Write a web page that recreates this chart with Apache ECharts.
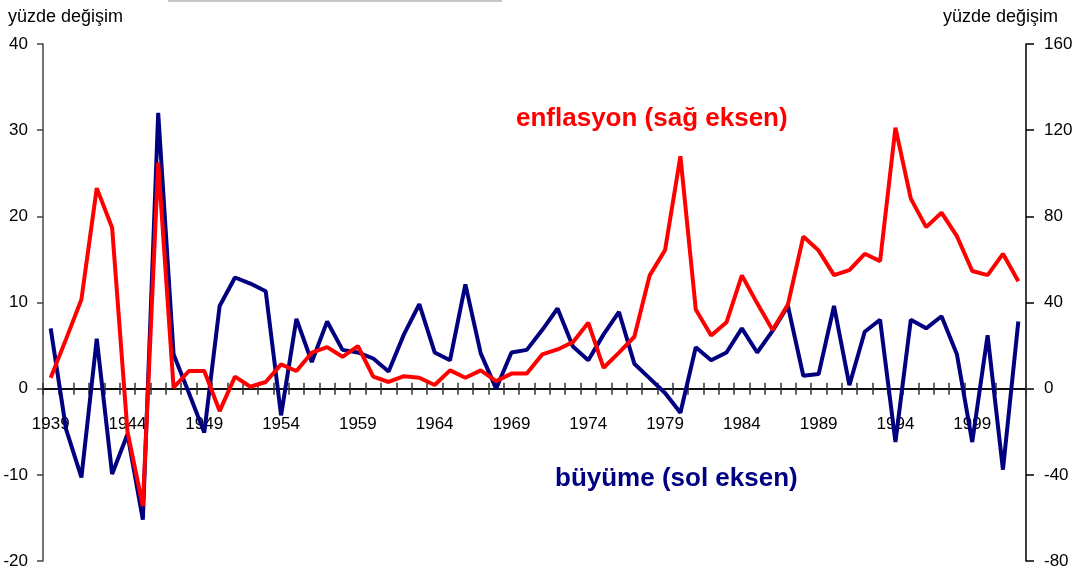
<!DOCTYPE html>
<html>
<head>
<meta charset="utf-8">
<title>büyüme ve enflasyon</title>
<script src="https://cdn.jsdelivr.net/npm/echarts@6/dist/echarts.min.js"></script>
<style>
  html, body { margin: 0; padding: 0; background: #fff; }
  #chart { width: 1076px; height: 571px; }
</style>
</head>
<body>
<div id="chart"></div>
<script>
// yillar
var years = ['1939','1940','1941','1942','1943','1944','1945','1946','1947','1948',
  '1949','1950','1951','1952','1953','1954','1955','1956','1957','1958',
  '1959','1960','1961','1962','1963','1964','1965','1966','1967','1968',
  '1969','1970','1971','1972','1973','1974','1975','1976','1977','1978',
  '1979','1980','1981','1982','1983','1984','1985','1986','1987','1988',
  '1989','1990','1991','1992','1993','1994','1995','1996','1997','1998',
  '1999','2000','2001','2002'];

// büyüme (sol eksen), yüzde
var buyume = [7.0, -4.7, -10.3, 5.8, -9.9, -5.3, -15.2, 32.0, 4.0, -0.5,
  -5.1, 9.6, 12.9, 12.2, 11.3, -3.1, 8.1, 3.1, 7.8, 4.5,
  4.2, 3.5, 2.0, 6.3, 9.8, 4.2, 3.3, 12.1, 4.1, 0.0,
  4.2, 4.5, 6.8, 9.3, 4.9, 3.3, 6.3, 8.9, 2.9, 1.2,
  -0.5, -2.8, 4.8, 3.3, 4.2, 7.0, 4.2, 6.7, 9.6, 1.5,
  1.7, 9.6, 0.4, 6.6, 8.0, -6.2, 8.0, 7.0, 8.4, 4.0,
  -6.2, 6.2, -9.4, 7.8];

// enflasyon (sag eksen), yüzde
var enflasyon = [5.1, 23, 41.4, 93.1, 74.7, -20, -54.5, 104.9, 0.5, 8.2,
  8.2, -10.4, 5.6, 0.9, 3.1, 11.3, 8.2, 16.7, 19.3, 14.8,
  19.8, 5.6, 3.1, 5.8, 5.1, 1.7, 8.5, 5.1, 8.5, 3.5,
  7.0, 7.0, 15.9, 18.2, 21.6, 30.6, 9.7, 16.7, 24.1, 52.6,
  64.3, 107.9, 36.8, 24.7, 30.8, 52.6, 39.6, 27.2, 39.1, 70.6,
  64.1, 52.7, 55.0, 62.6, 59.2, 121.1, 88.2, 75.0, 81.7, 70.8,
  54.6, 52.7, 62.6, 49.9];

var FONT = '"Liberation Sans", Arial, sans-serif';

var chart = echarts.init(document.getElementById('chart'));

chart.setOption({
  backgroundColor: '#fff',
  animation: false,
  grid: { left: 43, right: 50, top: 44, bottom: 10, containLabel: false, outerBoundsMode: 'none' },
  graphic: [
    { type: 'rect', left: 168, top: 0, shape: { width: 334, height: 2 }, style: { fill: '#c8c8c8' } },
    { type: 'text', left: 8, top: 8, style: { text: 'yüzde değişim', font: '18px ' + FONT, fill: '#000' } },
    { type: 'text', right: 18, top: 8, style: { text: 'yüzde değişim', font: '18px ' + FONT, fill: '#000' } },
    { type: 'text', left: 516, top: 106, style: { text: 'enflasyon (sağ eksen)', font: 'bold 26px ' + FONT, fill: '#ff0000' } },
    { type: 'text', left: 555, top: 466, style: { text: 'büyüme (sol eksen)', font: 'bold 26px ' + FONT, fill: '#000080' } }
  ],
  xAxis: [
    {
      // alt eksen: sifir cizgisi, asagi tikler ve yil etiketleri
      type: 'category',
      position: 'bottom',
      data: years,
      boundaryGap: true,
      axisLine: { onZero: true, lineStyle: { color: '#000', width: 1.5 } },
      axisTick: { show: true, interval: 0, length: 6, lineStyle: { color: '#333', width: 1.5 } },
      axisLabel: { interval: 4, margin: -145, fontSize: 17, color: '#000', fontFamily: FONT }
    },
    {
      // ust tikler (sifir cizgisinin ustune)
      type: 'category',
      position: 'top',
      data: years,
      boundaryGap: true,
      axisLine: { onZero: true, lineStyle: { color: '#000', width: 1.5 } },
      axisTick: { show: true, interval: 0, length: 6, lineStyle: { color: '#333', width: 1.5 } },
      axisLabel: { show: false }
    }
  ],
  yAxis: [
    {
      type: 'value',
      position: 'left',
      min: -20, max: 40, interval: 10,
      splitLine: { show: false },
      axisLine: { show: true, onZero: false, lineStyle: { color: '#444', width: 1.5 } },
      axisTick: { show: true, length: 6, lineStyle: { color: '#444', width: 1.5 } },
      axisLabel: { margin: 15, fontSize: 17, color: '#000', fontFamily: FONT }
    },
    {
      type: 'value',
      position: 'right',
      min: -80, max: 160, interval: 40,
      splitLine: { show: false },
      axisLine: { show: true, onZero: false, lineStyle: { color: '#000', width: 1.5 } },
      axisTick: { show: true, length: 8, lineStyle: { color: '#000', width: 1.5 } },
      axisLabel: { margin: 18, fontSize: 17, color: '#000', fontFamily: FONT }
    }
  ],
  series: [
    {
      name: 'büyüme',
      type: 'line',
      xAxisIndex: 0,
      yAxisIndex: 0,
      data: buyume,
      symbol: 'none',
      lineStyle: { color: '#000080', width: 4 },
      z: 2
    },
    {
      name: 'enflasyon',
      type: 'line',
      xAxisIndex: 0,
      yAxisIndex: 1,
      data: enflasyon,
      symbol: 'none',
      lineStyle: { color: '#ff0000', width: 4 },
      z: 3
    }
  ]
});
</script>
</body>
</html>
